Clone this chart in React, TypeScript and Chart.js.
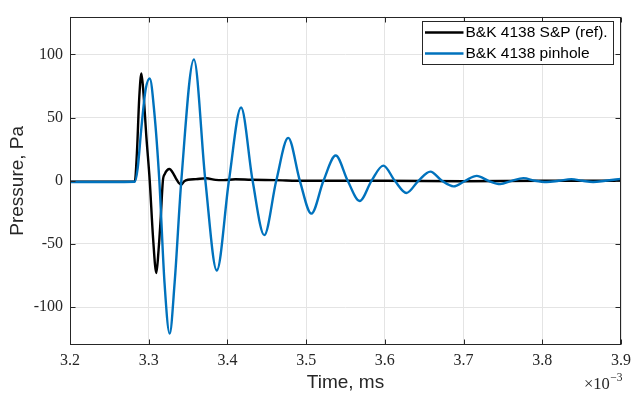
import React, { useEffect, useRef } from "react";
import { Chart, registerables } from "chart.js";

Chart.register(...registerables);

// ---- data (time on the ×10^-3 axis, pressure in Pa) ----
const seriesLabels = ["B&K 4138 S&P (ref).", "B&K 4138 pinhole"];
const seriesColors = ["#000000", "#0072BD"];

const refTime = [
  3.2, 3.25, 3.2823, 3.285, 3.288, 3.2907, 3.2935, 3.297, 3.3013, 3.3055, 3.3097,
  3.3125, 3.3152, 3.318, 3.3205, 3.3235, 3.3266, 3.33, 3.3345, 3.338, 3.3414, 3.345,
  3.3498, 3.36, 3.373, 3.385, 3.395, 3.41, 3.43, 3.46, 3.5, 3.6, 3.7, 3.8, 3.9,
];
const refPressure = [
  -0.8, -0.8, -0.6, 22, 66, 85, 68, 35, 0, -45, -73,
  -55, -30, 0, 5.5, 8.5, 9.3, 7, 2, -1.5, -3.1, -0.5,
  0.8, 1.3, 2, 0.7, 0.5, 1.2, 0.8, 0.5, 0, 0, -0.3, 0, 0,
];

const pinTime = [
  3.2, 3.25, 3.2823, 3.286, 3.2907, 3.296, 3.3013, 3.307, 3.3135, 3.32, 3.3266,
  3.333, 3.3414, 3.3574, 3.372, 3.3865, 3.4019, 3.4173, 3.432, 3.4468, 3.462,
  3.4772, 3.492, 3.5067, 3.522, 3.5376, 3.5528, 3.568, 3.583, 3.598, 3.6127,
  3.6274, 3.6426, 3.6578, 3.6725, 3.6873, 3.702, 3.7168, 3.7316, 3.7465, 3.7612,
  3.776, 3.7907, 3.8055, 3.821, 3.837, 3.851, 3.8646, 3.88, 3.9,
];
const pinPressure = [
  -1, -1, -0.8, 10, 42, 72, 81, 55, 0, -80, -121,
  -80, 0, 96, 0, -71, 0, 58, 0, -43, 0,
  34, 0, -26, 0, 20, 0, -16, 0, 12, 0,
  -9.6, 0, 7.3, 0, -4.4, 0, 3.9, 0, -2.6, 0,
  2.1, 0, -1.0, 0, 1.3, 0, -1.0, 0, 1.5,
];

const xTickValues = [3.2, 3.3, 3.4, 3.5, 3.6, 3.7, 3.8, 3.9];
const yTickValues = [-100, -50, 0, 50, 100];
const xRange = [3.2, 3.9];
const yRange = [-130, 130];
const xTitle = "Time, ms";
const yTitle = "Pressure, Pa";
const exponentBase = "×10";
const exponentPower = "−3";

const AXIS_COLOR = "#262626";

const matlabPlugin = {
  id: "matlabAxes",
  afterDatasetsDraw(chart: any) {
    const { ctx, chartArea: a, scales } = chart;
    ctx.save();
    ctx.strokeStyle = AXIS_COLOR;
    ctx.lineWidth = 1;
    const L = 5;
    const top = Math.round(a.top) + 0.5;
    const bottom = Math.round(a.bottom) - 0.5;
    const left = Math.round(a.left) + 0.5;
    const right = Math.round(a.right) - 0.5;
    ctx.beginPath();
    xTickValues.forEach((v) => {
      const px = Math.round(scales.x.getPixelForValue(v)) + 0.5;
      ctx.moveTo(px, bottom);
      ctx.lineTo(px, bottom - L);
      ctx.moveTo(px, top);
      ctx.lineTo(px, top + L);
    });
    yTickValues.forEach((v) => {
      const py = Math.round(scales.y.getPixelForValue(v)) + 0.5;
      ctx.moveTo(left, py);
      ctx.lineTo(left + L, py);
      ctx.moveTo(right, py);
      ctx.lineTo(right - L, py);
    });
    ctx.stroke();
    ctx.strokeRect(left, top, right - left, bottom - top);

    // legend box
    const lx = 422.5, ly = 21.5, lw = 191, lh = 43;
    ctx.fillStyle = "#ffffff";
    ctx.fillRect(lx, ly, lw, lh);
    ctx.strokeStyle = AXIS_COLOR;
    ctx.lineWidth = 1;
    ctx.strokeRect(lx, ly, lw, lh);
    ctx.font = "15.5px 'Liberation Sans', Arial, sans-serif";
    ctx.textBaseline = "middle";
    ctx.textAlign = "left";
    chart.data.datasets.forEach((ds: any, i: number) => {
      const y = 32.5 + i * 21;
      ctx.strokeStyle = ds.borderColor;
      ctx.lineWidth = 2.4;
      ctx.beginPath();
      ctx.moveTo(425, y);
      ctx.lineTo(463.5, y);
      ctx.stroke();
      ctx.fillStyle = "#000000";
      ctx.fillText(ds.label, 465.5, y + 0.5);
    });

    // exponent label
    ctx.fillStyle = AXIS_COLOR;
    ctx.textAlign = "right";
    ctx.textBaseline = "alphabetic";
    ctx.font = "11.5px 'Liberation Serif', serif";
    const pw = ctx.measureText(exponentPower).width;
    ctx.fillText(exponentPower, 622.5, 381);
    ctx.font = "16.5px 'Liberation Serif', serif";
    ctx.fillText(exponentBase, 622.5 - pw - 0.5, 389);
    ctx.restore();
  },
};

export default function App() {
  const canvasRef = useRef<HTMLCanvasElement | null>(null);

  useEffect(() => {
    if (!canvasRef.current) return;
    const chart = new Chart(canvasRef.current, {
      type: "line",
      data: {
        datasets: [
          {
            label: seriesLabels[0],
            data: refTime.map((t, i) => ({ x: t, y: refPressure[i] })),
            borderColor: seriesColors[0],
            backgroundColor: seriesColors[0],
            borderWidth: 2.4,
            pointRadius: 0,
            cubicInterpolationMode: "monotone",
            order: 1,
          },
          {
            label: seriesLabels[1],
            data: pinTime.map((t, i) => ({ x: t, y: pinPressure[i] })),
            borderColor: seriesColors[1],
            backgroundColor: seriesColors[1],
            borderWidth: 2.4,
            pointRadius: 0,
            cubicInterpolationMode: "monotone",
            order: 0,
          },
        ],
      },
      options: {
        animation: false,
        responsive: false,
        maintainAspectRatio: false,
        layout: { padding: { top: 11, right: 13, left: 0, bottom: 0 } },
        plugins: {
          legend: { display: false },
          tooltip: { enabled: false },
        },
        scales: {
          x: {
            type: "linear",
            min: xRange[0],
            max: xRange[1],
            afterBuildTicks: (s: any) => {
              s.ticks = xTickValues.map((v) => ({ value: v }));
            },
            afterFit: (s: any) => {
              s.height = 49;
            },
            grid: { color: "#e4e4e4", drawTicks: false, lineWidth: 1 },
            border: { display: false },
            ticks: {
              padding: 6,
              color: AXIS_COLOR,
              font: { family: "'Liberation Serif', serif", size: 16 },
              callback: (v: any) => Number(v).toFixed(1),
              maxRotation: 0,
              autoSkip: false,
            },
            title: {
              display: true,
              text: xTitle,
              color: AXIS_COLOR,
              font: { family: "'Liberation Sans', Arial, sans-serif", size: 19 },
              padding: { top: 0, bottom: 0 },
            },
          },
          y: {
            type: "linear",
            min: yRange[0],
            max: yRange[1],
            afterBuildTicks: (s: any) => {
              s.ticks = yTickValues.map((v) => ({ value: v }));
            },
            afterFit: (s: any) => {
              s.width = 70;
            },
            grid: { color: "#e4e4e4", drawTicks: false, lineWidth: 1 },
            border: { display: false },
            ticks: {
              padding: 7,
              color: AXIS_COLOR,
              font: { family: "'Liberation Serif', serif", size: 16 },
              callback: (v: any) => String(v),
              autoSkip: false,
            },
            title: {
              display: true,
              text: yTitle,
              color: AXIS_COLOR,
              font: { family: "'Liberation Sans', Arial, sans-serif", size: 19 },
              padding: { top: 6.6, bottom: 0 },
            },
          },
        },
      },
      plugins: [matlabPlugin],
    } as any);
    return () => chart.destroy();
  }, []);

  return (
    <div style={{ position: "fixed", left: 0, top: 0, width: 637, height: 394, background: "#fff" }}>
      <canvas ref={canvasRef} width={637} height={394} style={{ display: "block" }} />
    </div>
  );
}
